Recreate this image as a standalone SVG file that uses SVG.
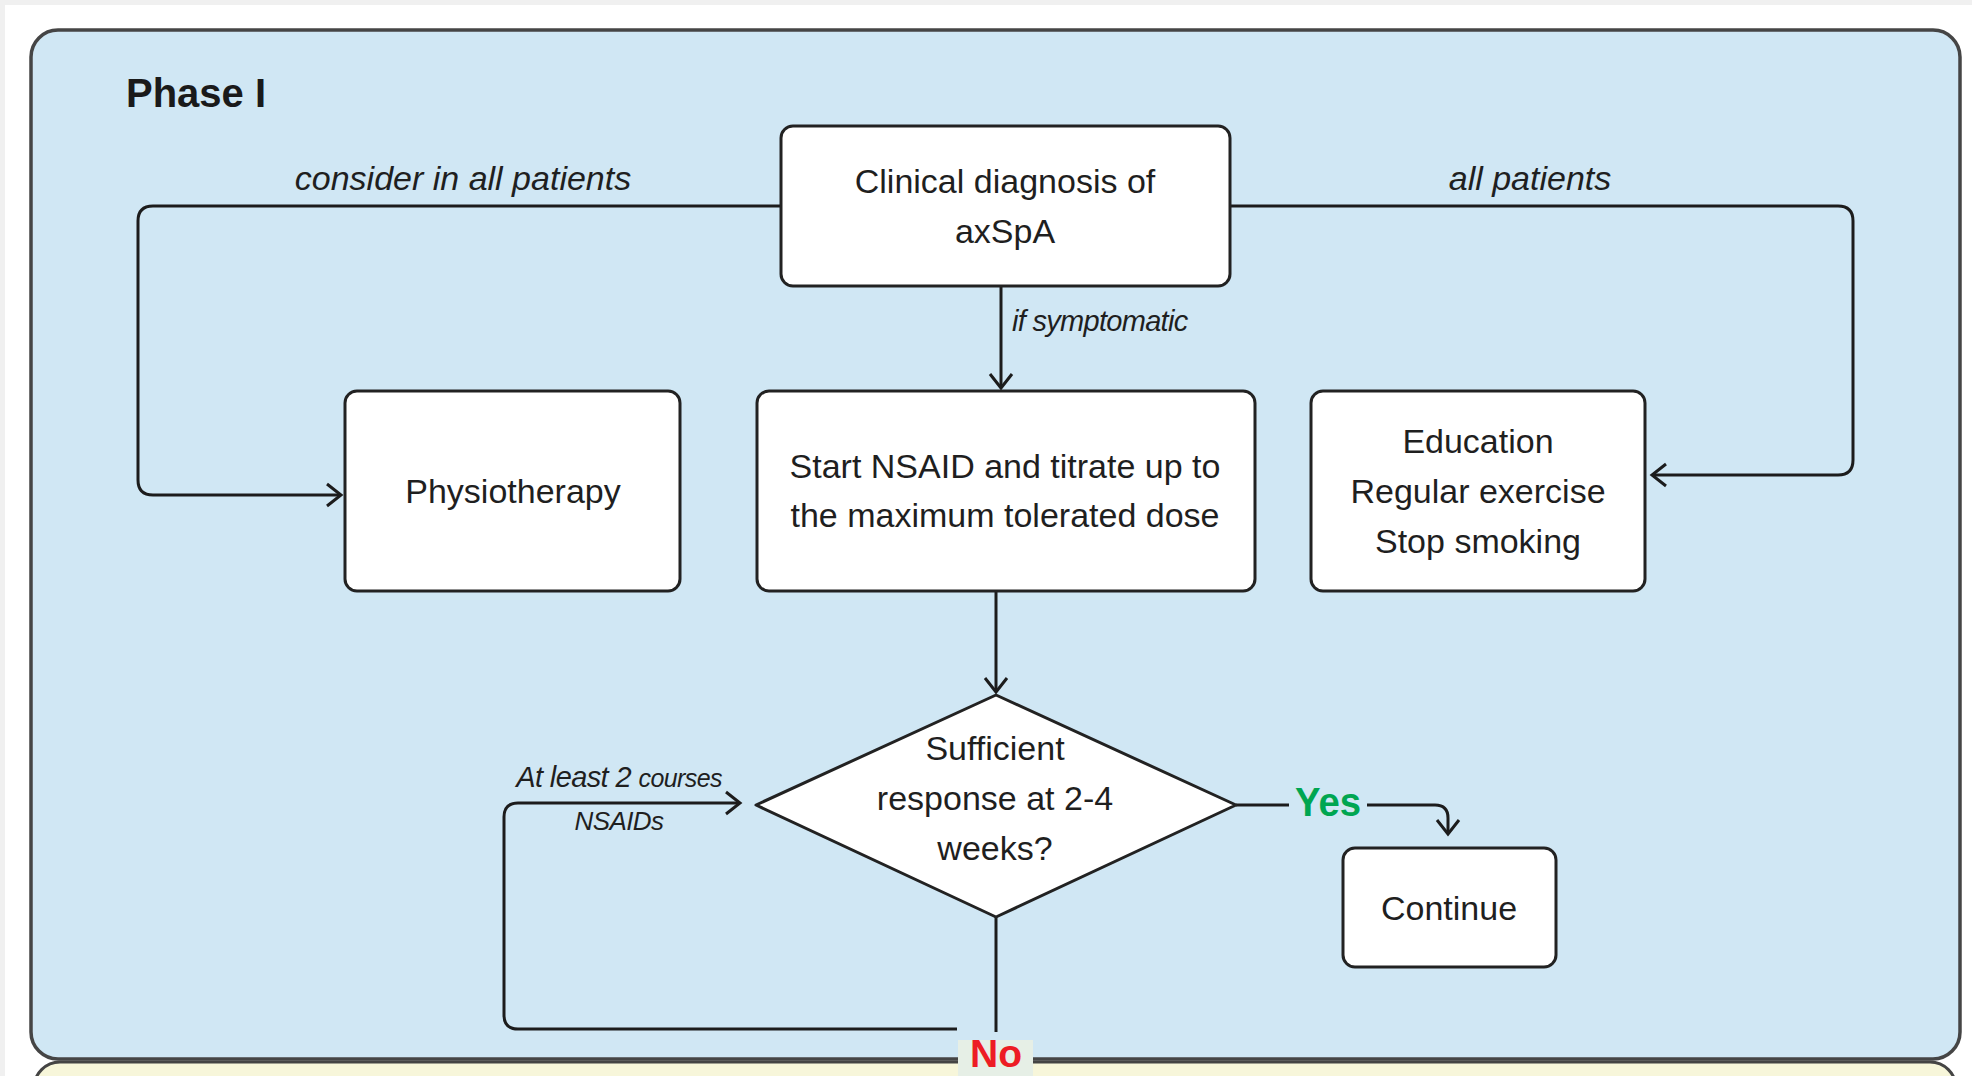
<svg xmlns="http://www.w3.org/2000/svg" width="1972" height="1076" viewBox="0 0 1972 1076">
<defs>
<style>
.node rect, .node polygon { fill:#ffffff; stroke:#222222; stroke-width:3; }
.t { font-family:"Liberation Sans", Arial, sans-serif; font-size:34px; fill:#1f1f1f; text-anchor:middle; }
.lbl { font-family:"Liberation Sans", Arial, sans-serif; font-style:italic; fill:#1f1f1f; }
.conn path { fill:none; stroke:#1c1c1c; stroke-width:3; stroke-linejoin:round; }
</style>
<marker id="arr" markerUnits="userSpaceOnUse" markerWidth="30" markerHeight="30" refX="0" refY="0" orient="auto" overflow="visible">
<path d="M-14,-11 L0,0 L-14,11" fill="none" stroke="#1c1c1c" stroke-width="3" stroke-linejoin="miter"/>
</marker>
</defs>
<rect x="0" y="0" width="1972" height="1076" fill="#ffffff"/>
<rect x="0" y="0" width="1972" height="5" fill="#f0f0f0"/>
<rect x="0" y="0" width="5" height="1076" fill="#f0f0f0"/>
<g id="panel-phase2">
<rect x="34" y="1062" width="1922" height="120" rx="26" fill="#f7f6da" stroke="#444444" stroke-width="3"/>
</g>
<g id="panel-phase1">
<rect x="31" y="30" width="1929" height="1029" rx="27" fill="#d0e7f4" stroke="#454545" stroke-width="3.5"/>
<text x="126" y="107" font-family="'Liberation Sans', Arial, sans-serif" font-weight="bold" font-size="40" fill="#1a1a1a">Phase I</text>
</g>
<g id="connectors" class="conn">
<path d="M781,206 H153 Q138,206 138,221 V480 Q138,495 153,495 H341" marker-end="url(#arr)"/>
<path d="M1230,206 H1838 Q1853,206 1853,221 V460 Q1853,475 1838,475 H1652" marker-end="url(#arr)"/>
<path d="M1001,286 V388" marker-end="url(#arr)"/>
<path d="M996,591 V692" marker-end="url(#arr)"/>
<path d="M1236,805 H1289"/>
<path d="M1367,805 H1435 Q1448,805 1448,818 V834" marker-end="url(#arr)"/>
<path d="M996,917 V1032"/>
<path d="M957,1029 H518 Q504,1029 504,1015 V817 Q504,803 518,803 H740" marker-end="url(#arr)"/>
<text class="lbl" x="463" y="190" font-size="34" text-anchor="middle">consider in all patients</text>
<text class="lbl" x="1530" y="190" font-size="34" text-anchor="middle">all patients</text>
<text class="lbl" x="1012" y="331" font-size="29" letter-spacing="-0.7">if symptomatic</text>
<text class="lbl" x="619" y="787" text-anchor="middle" letter-spacing="-0.6"><tspan font-size="29">At least 2 </tspan><tspan font-size="25">courses</tspan></text>
<text class="lbl" x="619" y="830" font-size="26" text-anchor="middle" letter-spacing="-0.6">NSAIDs</text>
<text x="1295" y="816" font-family="'Liberation Sans', Arial, sans-serif" font-weight="bold" font-size="41" fill="#00a651" textLength="66" lengthAdjust="spacingAndGlyphs">Yes</text>
<rect x="958" y="1040" width="75" height="40" fill="#e6efe6"/>
<text x="970" y="1067" font-family="'Liberation Sans', Arial, sans-serif" font-weight="bold" font-size="39" fill="#ed1c24" textLength="52" lengthAdjust="spacingAndGlyphs">No</text>
</g>
<g id="node-diagnosis" class="node">
<rect x="781" y="126" width="449" height="160" rx="12"/>
<text class="t" x="1005" y="193">Clinical diagnosis of</text>
<text class="t" x="1005" y="243">axSpA</text>
</g>
<g id="node-physio" class="node">
<rect x="345" y="391" width="335" height="200" rx="12"/>
<text class="t" x="513" y="503">Physiotherapy</text>
</g>
<g id="node-nsaid" class="node">
<rect x="757" y="391" width="498" height="200" rx="12"/>
<text class="t" x="1005" y="478">Start NSAID and titrate up to</text>
<text class="t" x="1005" y="527">the maximum tolerated dose</text>
</g>
<g id="node-education" class="node">
<rect x="1311" y="391" width="334" height="200" rx="12"/>
<text class="t" x="1478" y="453">Education</text>
<text class="t" x="1478" y="503">Regular exercise</text>
<text class="t" x="1478" y="553">Stop smoking</text>
</g>
<g id="node-decision" class="node">
<polygon points="996,695 1236,805 996,917 756,805" stroke-linejoin="round"/>
<text class="t" x="995" y="760">Sufficient</text>
<text class="t" x="995" y="810">response at 2-4</text>
<text class="t" x="995" y="860">weeks?</text>
</g>
<g id="node-continue" class="node">
<rect x="1343" y="848" width="213" height="119" rx="12"/>
<text class="t" x="1449" y="920">Continue</text>
</g>
</svg>
